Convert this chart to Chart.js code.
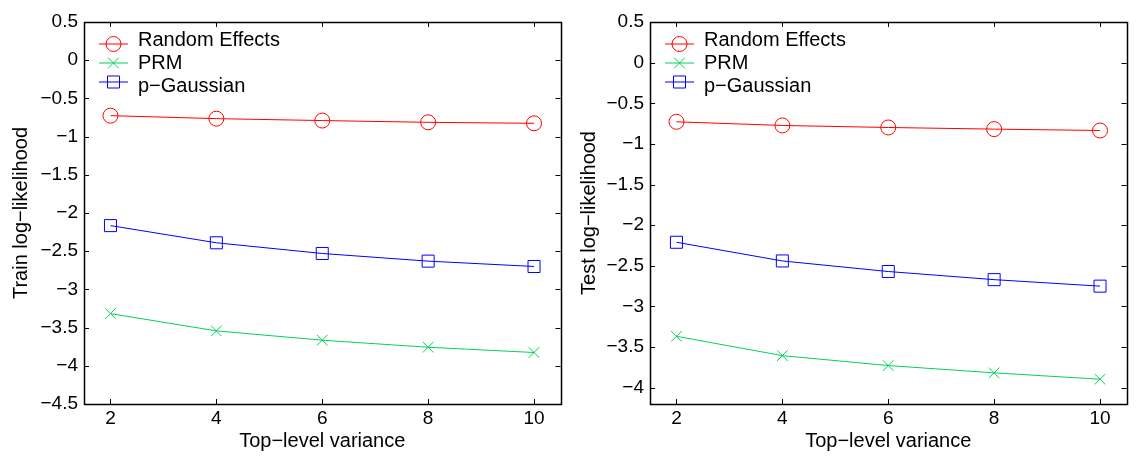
<!DOCTYPE html>
<html lang="en">
<head>
    <meta charset="UTF-8">
    <title>Log-likelihood vs top-level variance</title>
    <script src="https://cdn.jsdelivr.net/npm/chart.js"></script>
    <style>
        body { margin: 0; background: white; }
        #wrap { position: relative; width: 1136px; height: 466px; }
        canvas { position: absolute; top: 0; }
        #trainChart { left: 0; }
        #testChart { left: 568px; }
    </style>
</head>
<body>
<div id="wrap">
    <canvas id="trainChart" width="570" height="466"></canvas>
    <canvas id="testChart" width="568" height="466"></canvas>
</div>

<script>
// data
const variances = [2, 4, 6, 8, 10];
const seriesNames = ['Random Effects', 'PRM', 'p\u2212Gaussian'];

const trainRandomEffects = [-0.726, -0.765, -0.790, -0.813, -0.826];
const trainPRM = [-3.317, -3.543, -3.665, -3.757, -3.826];
const trainPGaussian = [-2.165, -2.390, -2.530, -2.630, -2.700];

const testRandomEffects = [-0.728, -0.773, -0.798, -0.818, -0.835];
const testPRM = [-3.367, -3.605, -3.727, -3.817, -3.895];
const testPGaussian = [-2.210, -2.440, -2.570, -2.670, -2.750];

const xTicks = [2, 4, 6, 8, 10];
const trainYTicks = [0.5, 0, -0.5, -1, -1.5, -2, -2.5, -3, -3.5, -4, -4.5];
const testYTicks = [0.5, 0, -0.5, -1, -1.5, -2, -2.5, -3, -3.5, -4];

const FONT = "'Liberation Sans', Arial, Helvetica, sans-serif";
const colors = ['#ff0000', '#00d25a', '#0000ff'];
const markers = ['circle', 'crossRot', 'rect'];
const radii = [7.5, 7.5, 8.5];

function minusSign(v) {
    return String(v).replace('-', '\u2212');
}

function makeDatasets(values) {
    return values.map((vals, i) => ({
        label: seriesNames[i],
        data: vals.map((y, j) => ({ x: variances[j], y: y })),
        borderColor: colors[i],
        backgroundColor: 'rgba(0,0,0,0)',
        borderWidth: 1,
        pointStyle: markers[i],
        pointRadius: radii[i],
        pointBorderColor: colors[i],
        pointBackgroundColor: 'rgba(0,0,0,0)',
        pointBorderWidth: 1,
        tension: 0
    }));
}

// MATLAB style box with inward ticks plus an inside legend
const matlabFrame = {
    id: 'matlabFrame',
    afterDatasetsDraw(chart) {
        const ctx = chart.ctx;
        const a = chart.chartArea;
        const xs = chart.scales.x, ys = chart.scales.y;
        ctx.save();
        ctx.strokeStyle = '#000';
        ctx.lineWidth = 1;
        ctx.beginPath();
        xs.ticks.forEach(t => {
            const px = Math.round(xs.getPixelForValue(t.value)) + 0.5;
            ctx.moveTo(px, a.bottom); ctx.lineTo(px, a.bottom - 5);
            ctx.moveTo(px, a.top); ctx.lineTo(px, a.top + 5);
        });
        ys.ticks.forEach(t => {
            const py = Math.round(ys.getPixelForValue(t.value)) + 0.5;
            ctx.moveTo(a.left, py); ctx.lineTo(a.left + 5, py);
            ctx.moveTo(a.right, py); ctx.lineTo(a.right - 5, py);
        });
        ctx.stroke();
        ctx.lineWidth = 1.5;
        ctx.strokeRect(Math.round(a.left) + 0.5, Math.round(a.top) + 0.5,
            Math.round(a.right - a.left), Math.round(a.bottom - a.top));

        // legend
        ctx.font = '20px ' + FONT;
        ctx.textBaseline = 'middle';
        ctx.textAlign = 'left';
        const x0 = a.left + 15;
        chart.data.datasets.forEach((ds, i) => {
            const ty = a.top + 18 + i * 23;
            const ly = ty + 4 - i * 4;
            ctx.strokeStyle = ds.borderColor;
            ctx.fillStyle = 'rgba(0,0,0,0)';
            ctx.lineWidth = 1;
            ctx.beginPath();
            ctx.moveTo(x0, ly); ctx.lineTo(x0 + 29, ly);
            ctx.stroke();
            Chart.helpers.drawPoint(ctx, {
                pointStyle: ds.pointStyle, radius: ds.pointRadius,
                borderWidth: 1, rotation: 0
            }, x0 + 14.5, ly);
            ctx.fillStyle = '#000';
            ctx.fillText(ds.label, x0 + 39, ty);
        });
        ctx.restore();
    }
};

function makeChart(id, values, yTicks, yMin, yTitle, yWidth) {
    return new Chart(document.getElementById(id), {
        type: 'line',
        data: { datasets: makeDatasets(values) },
        options: {
            responsive: false,
            animation: false,
            layout: { padding: { top: 22, right: 3, left: 0, bottom: 0 } },
            plugins: { legend: { display: false }, tooltip: { enabled: false } },
            scales: {
                x: {
                    type: 'linear',
                    min: 1.5,
                    max: 10.5,
                    afterBuildTicks: s => { s.ticks = xTicks.map(v => ({ value: v })); },
                    afterFit: s => { s.height = 62; },
                    grid: { display: false, drawTicks: false },
                    border: { display: false },
                    ticks: { color: '#000', font: { family: FONT, size: 19 }, padding: 3, callback: v => minusSign(v) },
                    title: {
                        display: true, text: 'Top\u2212level variance', color: '#000',
                        font: { family: FONT, size: 20 }, padding: { top: 0, bottom: 13 }
                    }
                },
                y: {
                    type: 'linear',
                    min: yMin,
                    max: 0.5,
                    afterBuildTicks: s => { s.ticks = yTicks.map(v => ({ value: v })); },
                    afterFit: s => { s.width = yWidth; },
                    grid: { display: false, drawTicks: false },
                    border: { display: false },
                    ticks: { color: '#000', font: { family: FONT, size: 19 }, padding: 6, callback: v => minusSign(v) },
                    title: {
                        display: true, text: yTitle, color: '#000',
                        font: { family: FONT, size: 20 }, padding: { top: 9, bottom: 0 }
                    }
                }
            }
        },
        plugins: [matlabFrame]
    });
}

makeChart('trainChart', [trainRandomEffects, trainPRM, trainPGaussian], trainYTicks, -4.5,
    'Train log\u2212likelihood', 84);
makeChart('testChart', [testRandomEffects, testPRM, testPGaussian], testYTicks, -4.2,
    'Test log\u2212likelihood', 82);
</script>
</body>
</html>
